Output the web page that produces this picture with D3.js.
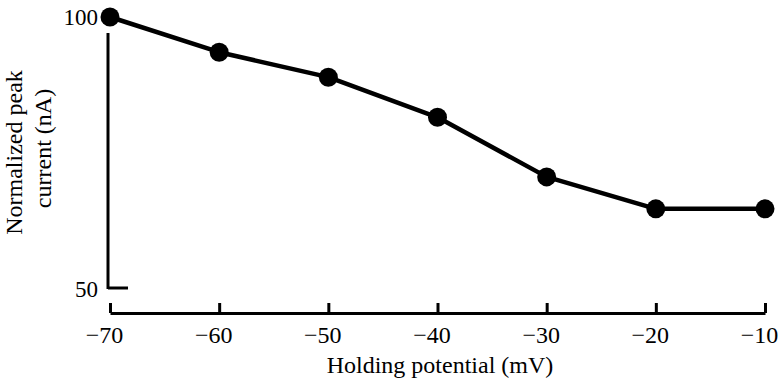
<!DOCTYPE html>
<meta charset="utf-8">
<script src="https://d3js.org/d3.v7.min.js"></script>
<style>
  body { margin: 0; background: #fff; }
  text { font-family: "Liberation Serif", "Times New Roman", serif; fill: #000; }
</style>
<div id="my_dataviz"></div>
<script>

// data
const holding = [-70, -60, -50, -40, -30, -20, -10];
const current = [100, 93.5, 88.9, 81.5, 70.5, 64.6, 64.6];
const xTicks = [-70, -60, -50, -40, -30, -20, -10];
const yTicks = [50, 100];

const width = 780, height = 382;

const svg = d3.select("#my_dataviz")
  .append("svg")
    .attr("width", width)
    .attr("height", height);

const x = d3.scaleLinear().domain([-70, -10]).range([110, 765]);
const y = d3.scaleLinear().domain([50, 100]).range([288, 17]);

// x axis, ticks pointing up
const xAxis = svg.append("g")
  .attr("transform", "translate(0,313)")
  .call(d3.axisBottom(x).tickValues(xTicks).tickSizeInner(-10).tickSizeOuter(0).tickPadding(13));
xAxis.select(".domain").attr("stroke-width", 3);
xAxis.selectAll(".tick line").attr("stroke-width", 3);
xAxis.selectAll(".tick text")
  .attr("dx", -6)
  .style("font-size", "24px")
  .style("font-family", "Liberation Serif, serif");

// y axis: a bare line with a foot at 50
svg.append("line")
  .attr("x1", 108).attr("x2", 108)
  .attr("y1", y(100) + 16).attr("y2", y(50) + 1)
  .attr("stroke", "#000").attr("stroke-width", 3);
svg.append("line")
  .attr("x1", 108).attr("x2", 128)
  .attr("y1", y(50)).attr("y2", y(50))
  .attr("stroke", "#000").attr("stroke-width", 3);

svg.selectAll("ylabels")
  .data(yTicks)
  .enter()
  .append("text")
    .attr("x", 98)
    .attr("y", d => y(d) + (d === 50 ? 9 : 8))
    .attr("text-anchor", "end")
    .style("font-size", "23px")
    .text(d => d);

// the curve
const line = d3.line()
  .x((d, i) => x(holding[i]))
  .y(d => y(d));

svg.append("path")
  .datum(current)
  .attr("d", line)
  .attr("fill", "none")
  .attr("stroke", "#000")
  .attr("stroke-width", 4.5)
  .attr("stroke-linejoin", "round");

svg.selectAll("dots")
  .data(current)
  .enter()
  .append("circle")
    .attr("cx", (d, i) => x(holding[i]))
    .attr("cy", d => y(d))
    .attr("r", 9.5)
    .attr("fill", "#000");

// axis titles
svg.append("text")
  .attr("x", 440)
  .attr("y", 373)
  .attr("text-anchor", "middle")
  .style("font-size", "24px")
  .text("Holding potential (mV)");

svg.append("text")
  .attr("transform", "translate(22,152.5) rotate(-90)")
  .attr("text-anchor", "middle")
  .style("font-size", "24px")
  .text("Normalized peak");
svg.append("text")
  .attr("transform", "translate(51,148.5) rotate(-90)")
  .attr("text-anchor", "middle")
  .style("font-size", "24px")
  .text("current (nA)");

</script>
